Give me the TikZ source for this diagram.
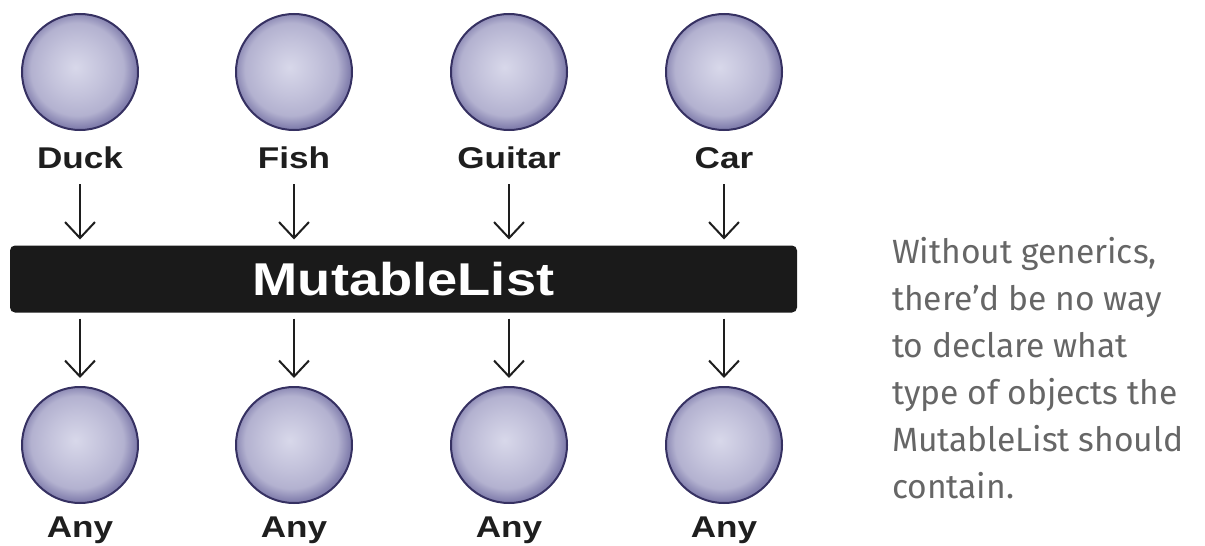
\documentclass[tikz,border=0pt]{standalone}
\usepackage{fontspec}
\setmainfont{Liberation Sans}
\newfontfamily\handfont{Fira Sans}
\usetikzlibrary{arrows.meta, positioning, calc}
\definecolor{orbhi}{HTML}{D8D8EA}
\definecolor{orbmid}{HTML}{C3C2DB}
\definecolor{orbdk}{HTML}{8380AE}
\definecolor{orbline}{HTML}{363162}
\definecolor{barblack}{HTML}{1A1A1A}
\definecolor{inkgray}{HTML}{666666}
\definecolor{txtblack}{HTML}{1E1E1E}

\pgfdeclareradialshading{orbshade}{\pgfpoint{-2bp}{2bp}}{%
  color(0bp)=(orbhi); color(12bp)=(orbmid); color(20bp)=(orbmid!75!orbdk);
  color(25bp)=(orbdk); color(50bp)=(orbdk)}

\tikzset{
  orb/.style={circle, minimum size=58pt, inner sep=0pt, shading=orbshade,
    draw=orbline, line width=1pt},
  objlabel/.style={anchor=base, inner sep=0pt, text=txtblack,
    font=\bfseries\fontsize{15}{18}\selectfont},
  listbar/.style={fill=barblack, rounded corners=2.5pt, minimum width=393.5pt,
    minimum height=33.5pt, inner sep=0pt, text=white,
    font=\bfseries\fontsize{23}{26}\selectfont},
  note/.style={anchor=north west, inner sep=0pt, align=left, text=inkgray,
    font=\handfont\fontsize{16.8}{23.5}\selectfont}
}

\begin{document}
\begin{tikzpicture}[x=0.5pt, y=-0.5pt, >={Straight Barb[length=8pt, width=15pt]}, line width=1pt]

\useasboundingbox (0,0) rectangle (1205,546);

% The list in the middle
\node[listbar] (list) at (403.5,279) {\scalebox{1.18}[1]{MutableList}};

% Objects going in, objects coming out
\foreach \name/\lbl/\x in {duck/Duck/80, fish/Fish/294, guitar/Guitar/509, car/Car/724} {
  \node[orb] (\name) at (\x,72) {};
  \node[objlabel] (\name-lbl) at (\x,168) {\scalebox{1.17}[1]{\lbl}};
  \draw[->, txtblack, shorten <=7.5pt, shorten >=2.5pt]
    (\name-lbl.south) -- (\name-lbl.south |- list.north);

  \node[orb] (\name-any) at (\x,445) {};
  \node[objlabel] (\name-anylbl) at (\x,537) {\scalebox{1.17}[1]{Any}};
  \draw[->, txtblack, shorten <=2.5pt, shorten >=4pt]
    (\name-any.north |- list.south) -- (\name-any.north);
}

% Handwritten remark
\node[note] (remark) at (891,236)
  {Without generics,\\there’d be no way\\to declare what\\type of objects the\\MutableList should\\contain.};

\end{tikzpicture}
\end{document}
